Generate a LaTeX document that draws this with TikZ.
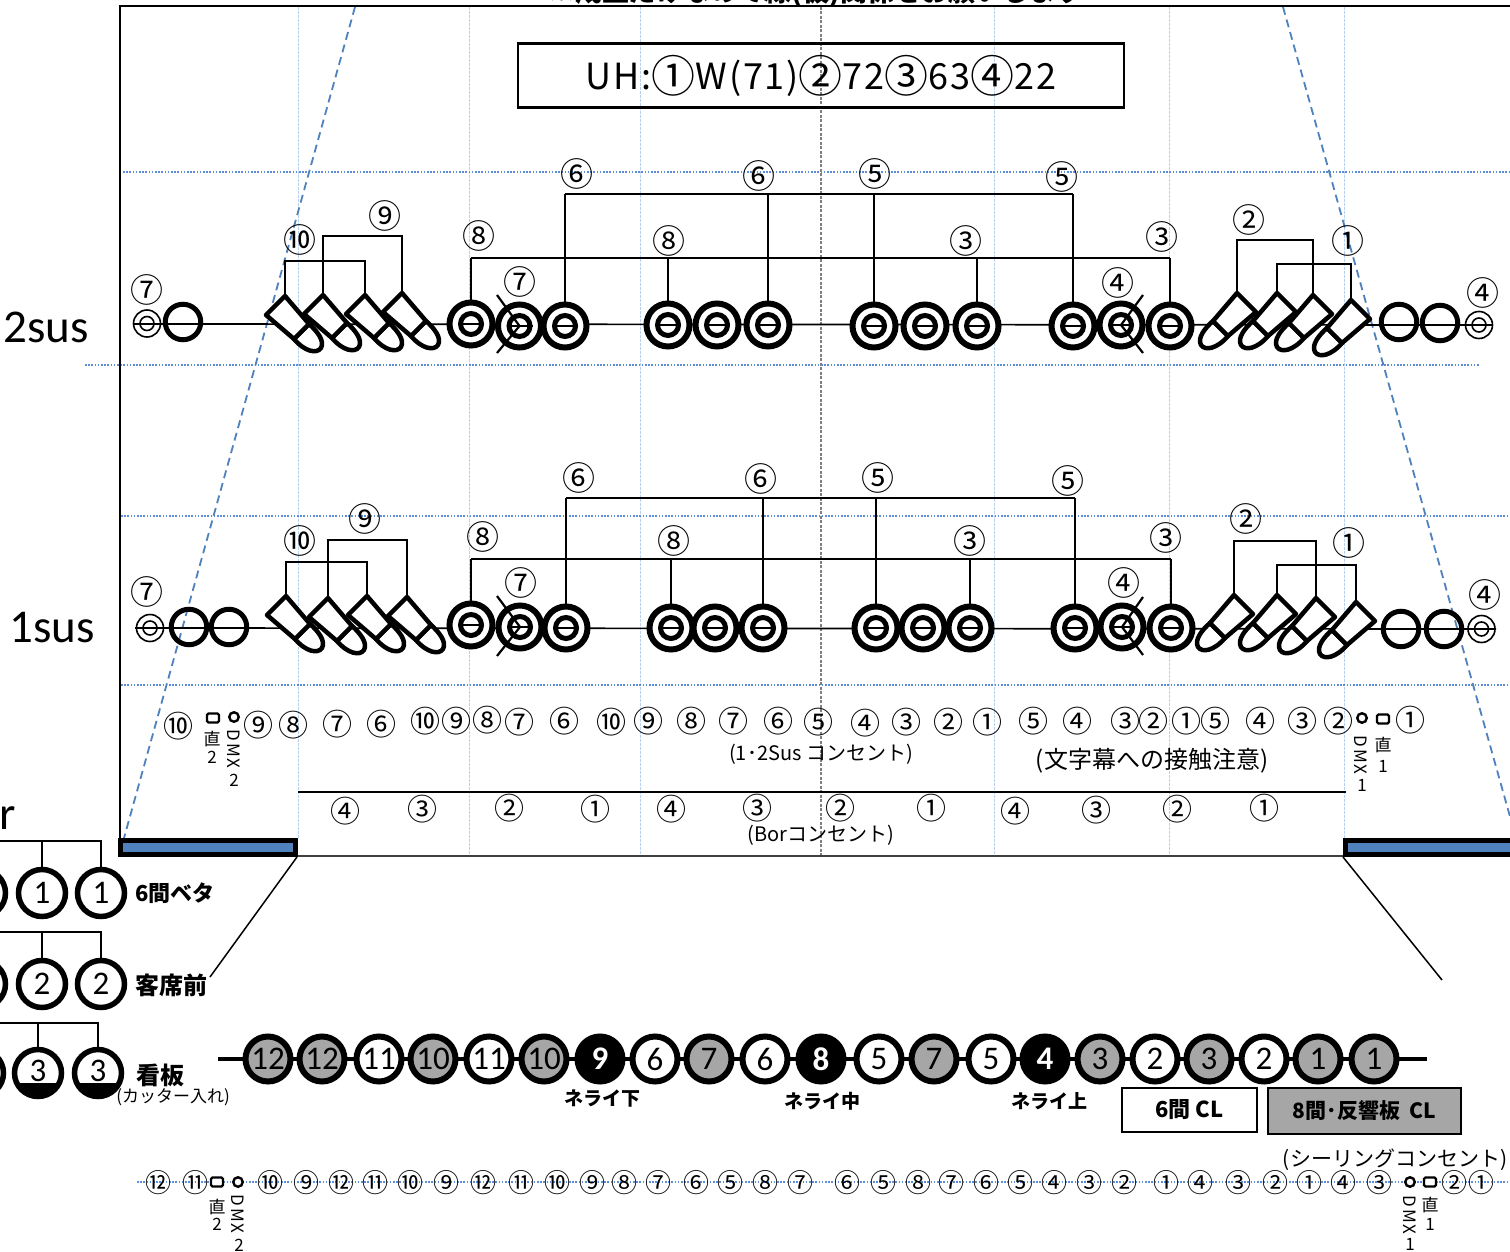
\documentclass[tikz,border=0pt]{standalone}
\usepackage{fontspec}
\setmainfont{Carlito}
\newfontfamily\jp{Noto Sans CJK JP}
\usetikzlibrary{calc}
\pgfdeclarelayer{bg}
\pgfsetlayers{bg,main}
\definecolor{bluedot}{HTML}{5B8ED6}
\definecolor{bluegrid}{HTML}{B8D0F0}
\definecolor{bluedash}{HTML}{4F81BD}
\definecolor{lampgray}{HTML}{A6A6A6}
\newcommand\fs[1]{\fontsize{#1}{#1}\selectfont}
\newcommand\cnum[1]{\raisebox{-3pt}{\fs{44}#1}}
\def\blackname{black}
\tikzset{
  x=1pt,y=-1pt,
  hdot/.style={bluedot,line width=1.6pt,dash pattern=on 1.6pt off 1.6pt},
  vgrid/.style={bluegrid,line width=0.9pt,dash pattern=on 3pt off 1pt},
  vcentre/.style={gray,line width=1.3pt,dash pattern=on 3pt off 1.5pt},
  persp/.style={bluedash,line width=1.8pt,dash pattern=on 8pt off 5pt},
  mainln/.style={black,line width=1.7pt},
  busln/.style={black,line width=1.8pt},
  ringo/.style={circle,draw,fill=white,line width=6pt,minimum size=43pt,inner sep=0pt},
  ringi/.style={circle,draw,line width=5pt,minimum size=21pt,inner sep=0pt},
  thick ring/.style={circle,draw,line width=5pt,minimum size=35.5pt,inner sep=0pt},
  tgto/.style={circle,draw,line width=1.6pt,minimum size=27pt,inner sep=0pt},
  tgti/.style={circle,draw,line width=1.6pt,minimum size=14pt,inner sep=0pt},
  crossln/.style={black,line width=2.2pt},
  clab/.style={inner sep=0pt,font=\jp\fs{33}},
  mlab/.style={inner sep=0pt,font=\jp\fs{30}},
  slab/.style={inner sep=0pt,font=\jp\fs{26}},
  sq/.style={draw,line width=2.4pt,rounded corners=1.5pt,minimum width=12pt,minimum height=9pt,inner sep=0pt},
  ci/.style={circle,draw,line width=2.4pt,minimum size=9.5pt,inner sep=0pt},
  captxt/.style={inner sep=0pt,font=\jp\fs{20}},
  tiny/.style={inner sep=0pt,font=\jp\fs{17}},
  dmxt/.style={inner sep=0pt,rotate=-90,font=\jp\fs{17}\addfontfeatures{LetterSpace=12}},
  boldl/.style={inner sep=0pt,font=\jp\bfseries\fs{22}},
  boldm/.style={inner sep=0pt,font=\jp\bfseries\fs{24}},
  boldn/.style={inner sep=0pt,font=\jp\bfseries\fs{19}},
  numc/.style={circle,draw,line width=5.5pt,minimum size=47pt,inner sep=0pt,font=\fs{33}},
  lampbody/.style={black,line width=4.5pt,line join=round,fill=white},
  lamp/.pic={
    \coordinate (-top) at (0,0);
    \draw[lampbody] (24,28) .. controls (32,35) and (40,45) .. (36,52) .. controls (32,58) and (20,56) .. (9,43) -- cycle;
    \draw[lampbody] (0,0) -- (-19,19) -- (9,43) -- (24,28) -- cycle;
  },
}
\newcommand\ring[3]{%
  \node[ringo] (#1) at (#2,#3) {};
  \node[ringi] (#1i) at (#2,#3) {};
  \draw[mainln] (#1i.west) -- (#1i.east);}
\newcommand\target[3]{%
  \node[tgto] (#1) at (#2,#3) {};
  \node[tgti] (#1i) at (#2,#3) {};}
\begin{document}
\begin{tikzpicture}
\useasboundingbox (0,0) rectangle (1510,1252);
\clip (0,0) rectangle (1510,1252);

% guide lines
\begin{pgfonlayer}{bg}
\fill[white] (0,0) rectangle (1510,1252);
\coordinate (g1a) at (298,7); \coordinate (g1b) at (298,838);
\coordinate (g2a) at (469,7); \coordinate (g2b) at (469,855);
\coordinate (g3a) at (640,7); \coordinate (g3b) at (640,855);
\coordinate (g4a) at (821,7); \coordinate (g4b) at (821,855);
\coordinate (g5a) at (994,7); \coordinate (g5b) at (994,855);
\coordinate (g6a) at (1169,7); \coordinate (g6b) at (1169,855);
\coordinate (g7a) at (1344,7); \coordinate (g7b) at (1344,838);
\foreach \g in {1,2,3,5,6,7} \draw[vgrid] (g\g a) -- (g\g b);
\draw[vcentre] (g4a) -- (g4b);
\coordinate (h1a) at (123,172); \coordinate (h1b) at (1510,172);
\coordinate (h2a) at (85,365); \coordinate (h2b) at (1480,365);
\coordinate (h3a) at (121,516); \coordinate (h3b) at (1510,516);
\coordinate (h4a) at (121,685); \coordinate (h4b) at (1510,685);
\coordinate (h5a) at (137,1182); \coordinate (h5b) at (1510,1182);
\foreach \g in {1,...,5} \draw[hdot] (h\g a) -- (h\g b);
\coordinate (pLa) at (355,7); \coordinate (pLb) at (124,838);
\coordinate (pRa) at (1283,7); \coordinate (pRb) at (1516,838);
\draw[persp] (pLa) -- (pLb);
\draw[persp] (pRa) -- (pRb);
\coordinate (m2a) at (133,324); \coordinate (m2b) at (1492,325);
\coordinate (m1a) at (135,628); \coordinate (m1b) at (1496,629);
\draw[mainln] (m2a) -- (m2b);
\draw[mainln] (m1a) -- (m1b);
\end{pgfonlayer}

% frame
\coordinate (fa) at (120,838); \coordinate (fb) at (120,6); \coordinate (fc) at (1510,6);
\draw[black,line width=1.8pt] (fa) -- (fb) -- (fc);
\node[inner sep=0pt,font=\jp\bfseries\fs{27},anchor=center] (title) at (816,-8) {※成立だけなので線(仮)関係をお願いします};
\node[draw,line width=2.4pt,minimum width=606pt,minimum height=64pt,inner sep=0pt,font=\jp\fs{36}\addfontfeatures{LetterSpace=5}] (uh) at (821,75.5) {UH:\cnum{①}W(71)\cnum{②}72\cnum{③}63\cnum{④}22};

% ---- 2sus
\node[inner sep=0pt,font=\fs{47}] (s2) at (46,327) {2sus};
\target{t2a}{147}{323.5}
\node[thick ring] (c2a) at (183,322) {};
\foreach \n/\x/\y in {a/285/296,b/323/295,c/365/295,d/402/293}
  \pic (L\n) at (\x,\y) {lamp};
\foreach \n/\x/\y in {d/1351/300,c/1313/295,b/1277/293,a/1237/293}
  \pic[xscale=-1] (R\n) at (\x,\y) {lamp};
\ring{r1}{471}{324}\ring{r2}{519.5}{326}\ring{r3}{565}{326}
\ring{r4}{668}{325}\ring{r5}{717}{325}\ring{r6}{768}{325}
\ring{r7}{874}{326}\ring{r8}{925}{326}\ring{r9}{977}{326}
\ring{r10}{1073}{326}\ring{r11}{1121}{325}\ring{r12}{1170}{326}
\node[thick ring] (c2b) at (1399,322) {};
\node[thick ring] (c2c) at (1440,323) {};
\target{t2b}{1479}{325}
\coordinate (b2a) at (0,194); \coordinate (b2b) at (0,258);
\draw[busln] (r3.north |- b2a) -- (r10.north |- b2a);
\foreach \n in {r3,r6,r7,r10} \draw[busln] (\n.north) -- (\n.north |- b2a);
\draw[busln] (r1.north |- b2b) -- (r12.north |- b2b);
\foreach \n in {r1,r4,r9,r12} \draw[busln] (\n.north) -- (\n.north |- b2b);
\coordinate (b2c) at (0,261); \coordinate (b2d) at (0,236);
\draw[busln] (La-top) -- (La-top |- b2c) -- (Lc-top |- b2c) -- (Lc-top);
\draw[busln] (Lb-top) -- (Lb-top |- b2d) -- (Ld-top |- b2d) -- (Ld-top);
\coordinate (b2e) at (0,240); \coordinate (b2f) at (0,264);
\draw[busln] (Ra-top) -- (Ra-top |- b2e) -- (Rc-top |- b2e) -- (Rc-top);
\draw[busln] (Rb-top) -- (Rb-top |- b2f) -- (Rd-top |- b2f) -- (Rd-top);
\coordinate (x2a) at (497,295); \coordinate (x2b) at (497,353);
\draw[crossln] (x2a) -- (r2.center) -- (x2b);
\coordinate (x2c) at (1143,295); \coordinate (x2d) at (1143,353);
\draw[crossln] (x2c) -- (r11.center) -- (x2d);
\foreach \x/\y/\t [count=\i] in {147/290/⑦,300/240/⑩,385/216/⑨,479/236/⑧,520/282/⑦,577/174/⑥,669/241/⑧,759/176/⑥,875/174/⑤,966/241/③,1062/177/⑤,1118/283/④,1162/237/③,1249/220/②,1348/241/①,1483/293/④}
  \node[clab] (u\i) at (\x,\y) {\t};

% ---- 1sus
\node[inner sep=0pt,font=\fs{47}] (s1) at (52,628) {1sus};
\target{t1a}{150}{628}
\node[thick ring] (c1a) at (189,627) {};
\node[thick ring] (c1b) at (229,627) {};
\foreach \n/\x/\y in {a/286/596,b/328/598,c/367/596,d/407/597}
  \pic (P\n) at (\x,\y) {lamp};
\foreach \n/\x/\y in {d/1356/602,c/1316/598,b/1277/595,a/1234/595}
  \pic[xscale=-1] (Q\n) at (\x,\y) {lamp};
\ring{q1}{471}{625}\ring{q2}{520}{627}\ring{q3}{566}{628}
\ring{q4}{671}{628}\ring{q5}{715}{628}\ring{q6}{763}{628}
\ring{q7}{876}{628}\ring{q8}{923}{628}\ring{q9}{970}{628}
\ring{q10}{1075}{628}\ring{q11}{1122}{627}\ring{q12}{1171}{628}
\node[thick ring] (c1c) at (1401,629) {};
\node[thick ring] (c1d) at (1444,629) {};
\target{t1b}{1481.5}{629}
\coordinate (b1a) at (0,498); \coordinate (b1b) at (0,559);
\draw[busln] (q3.north |- b1a) -- (q10.north |- b1a);
\foreach \n in {q3,q6,q7,q10} \draw[busln] (\n.north) -- (\n.north |- b1a);
\draw[busln] (q1.north |- b1b) -- (q12.north |- b1b);
\foreach \n in {q1,q4,q9,q12} \draw[busln] (\n.north) -- (\n.north |- b1b);
\coordinate (b1c) at (0,562); \coordinate (b1d) at (0,540);
\draw[busln] (Pa-top) -- (Pa-top |- b1c) -- (Pc-top |- b1c) -- (Pc-top);
\draw[busln] (Pb-top) -- (Pb-top |- b1d) -- (Pd-top |- b1d) -- (Pd-top);
\coordinate (b1e) at (0,541); \coordinate (b1f) at (0,565);
\draw[busln] (Qa-top) -- (Qa-top |- b1e) -- (Qc-top |- b1e) -- (Qc-top);
\draw[busln] (Qb-top) -- (Qb-top |- b1f) -- (Qd-top |- b1f) -- (Qd-top);
\coordinate (x1a) at (497,596); \coordinate (x1b) at (497,656);
\draw[crossln] (x1a) -- (q2.center) -- (x1b);
\coordinate (x1c) at (1143,597); \coordinate (x1d) at (1143,655);
\draw[crossln] (x1c) -- (q11.center) -- (x1d);
\foreach \x/\y/\t [count=\i] in {147/592/⑦,300/541/⑩,365/519/⑨,483/537/⑧,521/583/⑦,579/478/⑥,674/541/⑧,761/479/⑥,878/478/⑤,970/541/③,1068/481/⑤,1124/583/④,1166/538/③,1246/519/②,1349/543/①,1485/595/④}
  \node[clab] (v\i) at (\x,\y) {\t};

% ---- consent rows
\foreach \x/\y/\t [count=\i] in {178/726/⑩,258/725/⑨,293/725/⑧,337/724/⑦,381/724/⑥,425/721/⑩,456/721/⑨,487/720/⑧,519/722/⑦,564/721/⑥,611/722/⑩,648/721/⑨,691/721/⑧,733/721/⑦,778/721/⑥,818/722/⑤,865/723/④,906/722/③,948/722/②,987/722/①,1033/721/⑤,1077/721/④,1125/721/③,1153/721/②,1186/721/①,1215/721/⑤,1260/721/④,1302/721/③,1338/721/②,1410/720/①}
  \node[mlab] (w\i) at (\x,\y) {\t};
\node[sq] (sqA) at (213,718) {};
\node[ci] (ciA) at (234,717) {};
\node[tiny] (zA) at (212,739) {直};
\node[tiny] (zA2) at (212,757) {2};
\node[dmxt] (dA) at (234,749) {DMX};
\node[tiny] (dA2) at (234,780) {2};
\node[ci] (ciB) at (1362,718) {};
\node[sq] (sqB) at (1383,719) {};
\node[dmxt] (dB) at (1361,755) {DMX};
\node[tiny] (dB2) at (1362,785) {1};
\node[tiny] (zB) at (1383,745) {直};
\node[tiny] (zB2) at (1383,766) {1};
\node[captxt] (n1) at (821,754) {(1･2Sus コンセント)};
\node[inner sep=0pt,font=\jp\fs{24}] (n2) at (1152,761) {(文字幕への接触注意)};
\coordinate (d1) at (298,792); \coordinate (d2) at (1346,792);
\draw[black,line width=2pt] (d1) -- (d2);
\foreach \x/\y/\t [count=\i] in {345/811/④,422/809/③,509/808/②,595/809/①,671/809/④,757/808/③,840/808/②,931/808/①,1015/811/④,1096/810/③,1177/809/②,1264/808/①}
  \node[mlab] (y\i) at (\x,\y) {\t};
\node[captxt] (n3) at (821,835) {(Borコンセント)};
\coordinate (e1) at (187,856); \coordinate (e2) at (1345,856);
\draw[black!75,line width=2pt] (e1) -- (e2);
\node[draw=black,line width=5pt,fill=bluedash,minimum width=175pt,minimum height=14pt,inner sep=0pt] (barL) at (208,847.5) {};
\node[draw=black,line width=5pt,fill=bluedash,minimum width=170pt,minimum height=14pt,inner sep=0pt] (barR) at (1430,847.5) {};

% ---- left rows
\node[inner sep=0pt,font=\fs{47}] (rr) at (8,818) {r};
\foreach \n/\y/\bus/\t in {A/893/841/1,B/984/932/2}{
  \node[numc] (\n0) at (-18,\y) {\t};
  \node[numc] (\n1) at (42,\y) {\t};
  \node[numc] (\n2) at (101,\y) {\t};
  \coordinate (bus\n) at (0,\bus);
  \draw[busln] (bus\n) -- (\n2.north |- bus\n) -- (\n2.north);
  \draw[busln] (\n1.north |- bus\n) -- (\n1.north);
}
\foreach \n/\x in {0/-20,1/38,2/98}{
  \begin{scope}
    \clip (\x,1073) circle[radius=24];
    \fill[black] (\x-26,1083) rectangle (\x+26,1100);
  \end{scope}
  \node[numc] (C\n) at (\x,1073) {};
  \node[inner sep=0pt,font=\fs{33}] (Ct\n) at (\x,1071) {3};
}
\coordinate (busC) at (0,1023);
\draw[busln] (busC) -- (C2.north |- busC) -- (C2.north);
\draw[busln] (C1.north |- busC) -- (C1.north);
\node[boldl] (la1) at (175,893) {6間ベタ};
\node[boldm] (la2) at (171,985) {客席前};
\node[boldm] (la3) at (160,1075) {看板};
\node[inner sep=0pt,font=\jp\fs{17}] (la4) at (173,1097) {(カッター入れ)};
\coordinate (ln1) at (297,857); \coordinate (ln2) at (210,977);
\draw[black,line width=1.5pt] (ln1) -- (ln2);
\coordinate (ln3) at (1343,857); \coordinate (ln4) at (1442,980);
\draw[black,line width=1.5pt] (ln3) -- (ln4);

% ---- ceiling row
\begin{pgfonlayer}{bg}
\coordinate (ca) at (218,1059); \coordinate (cb) at (1427,1052);
\draw[black,line width=3.5pt] (ca) -- (ca -| cb);
\end{pgfonlayer}
\foreach \x/\t/\f/\g [count=\i] in {268/12/lampgray/black,322/12/lampgray/black,379/11/white/black,433/10/lampgray/black,489/11/white/black,544/10/lampgray/black,600/9/black/white,655/6/white/black,709/7/lampgray/black,765/6/white/black,821/8/black/white,879/5/white/black,934/7/lampgray/black,991/5/white/black,1045/4/black/white,1100/3/lampgray/black,1155/2/white/black,1209/3/lampgray/black,1264/2/white/black,1318/1/lampgray/black,1374/1/lampgray/black}
  \node[numc,minimum size=45pt,line width=6pt,fill=\f,text=\g] (k\i) at (\x,1059) {\ifx\f\blackname\bfseries\fi\t};
\node[boldn] (la5) at (602,1099) {ネライ下};
\node[boldn] (la6) at (822,1101) {ネライ中};
\node[boldn] (la7) at (1049,1101) {ネライ上};
\node[draw,line width=2.2pt,fill=white,minimum width=135pt,minimum height=44pt,inner sep=0pt,font=\jp\bfseries\fs{22}] (box6) at (1189.5,1110) {6間 CL};
\node[draw,line width=2.2pt,fill=lampgray,minimum width=193pt,minimum height=46pt,inner sep=0pt,font=\jp\bfseries\fs{21}] (box8) at (1364.5,1111) {8間･反響板\ \ CL};
\node[inner sep=0pt,font=\jp\fs{21}] (n4) at (1395,1160) {(シーリングコンセント)};

% ---- bottom row
\foreach \x/\t [count=\i] in {158/⑫,195/⑪,270/⑩,306/⑨,341/⑫,375/⑪,410/⑩,446/⑨,483/⑫,521/⑪,557/⑩,592/⑨,624/⑧,658/⑦,696/⑥,730/⑤,765/⑧,800/⑦,847/⑥,883/⑤,918/⑧,951/⑦,986/⑥,1020/⑤,1054/④,1089/③,1124/②,1166/①,1200/④,1238/③,1275/②,1309/①,1343/④,1379/③,1454/②,1481/①}
  \node[slab] (z\i) at (\x,1183) {\t};
\node[sq,fill=white] (sqC) at (217,1182) {};
\node[ci,fill=white] (ciC) at (238,1182) {};
\node[tiny] (zC) at (217,1207) {直};
\node[tiny] (zC2) at (217,1224) {2};
\node[dmxt] (dC) at (238,1214) {DMX};
\node[tiny] (dC2) at (239,1245) {2};
\node[ci,fill=white] (ciD) at (1410,1182) {};
\node[sq,fill=white] (sqD) at (1430,1182) {};
\node[dmxt] (dD) at (1410,1215) {DMX};
\node[tiny] (dD2) at (1410,1244) {1};
\node[tiny] (zD) at (1430,1205) {直};
\node[tiny] (zD2) at (1430,1224) {1};
\end{tikzpicture}
\end{document}
